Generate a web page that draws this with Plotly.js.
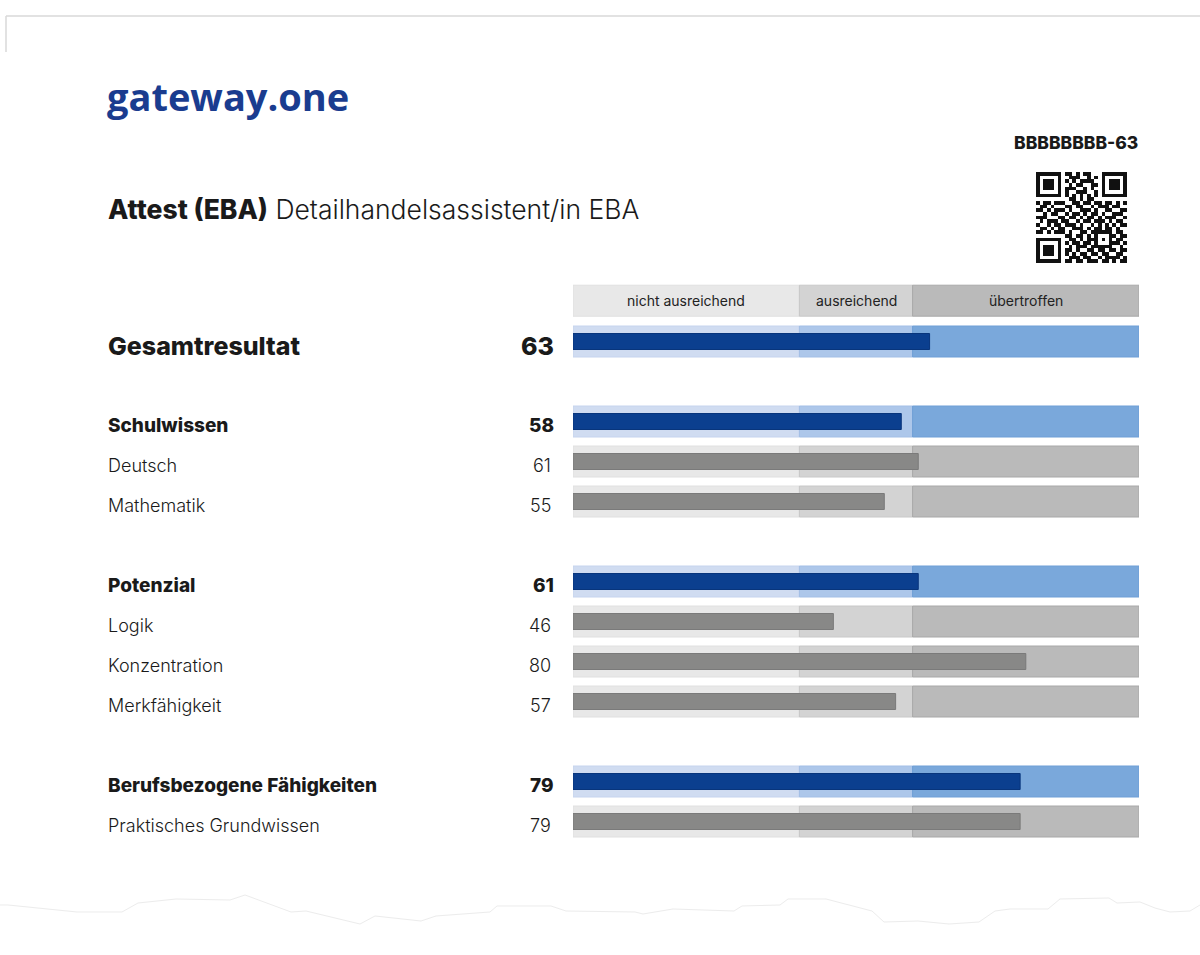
<!DOCTYPE html>
<html>
<head>
<meta charset="utf-8">
<script src="https://cdn.plot.ly/plotly-3.0.1.min.js"></script>
<style>
html,body{margin:0;padding:0;background:#fff;}
#chart{width:1200px;height:955px;}
</style>
</head>
<body>
<div id="chart"></div>
<script>
// ---- data ----
const rowLabels = ["Gesamtresultat","Schulwissen","Deutsch","Mathematik","Potenzial","Logik","Konzentration","Merkfähigkeit","Berufsbezogene Fähigkeiten","Praktisches Grundwissen"];
const rowValues = [63,58,61,55,61,46,80,57,79,79];
const rowLevels = ["total","group","sub","sub","group","sub","sub","sub","group","sub"];
const rowPos = [0,2,3,4,6,7,8,9,11,12];
const bandNames = ["nicht ausreichend","ausreichend","übertroffen"];
const bandStart = [0,40,60];
const bandEnd = [40,60,100];
const headerPos = -1.02;
const titleBold = "Attest (EBA)";
const titleRest = "Detailhandelsassistent/in EBA";
const codeLabel = "BBBBBBBB-63";
const logoText = "gateway.one";
const qrRows = [
"1111111011010110001111111",
"1000001001110010101000001",
"1011101010101111001011101",
"1011101001011001101011101",
"1011101011100101001011101",
"1000001010011100101000001",
"1111111010101010101111111",
"0000000001101011000000000",
"1011011100110110110110101",
"0110100011011001011101100",
"1101011101001110100110011",
"0010110010110101101001110",
"1110001101101011010111001",
"0101110110010110111010110",
"1001011011101001010101011",
"0110101100111010110110100",
"1101011101001101111110110",
"0000000011011010100011011",
"1111111001101011101010110",
"1000001010110110100011101",
"1011101001011101111110010",
"1011101011010011011011011",
"1011101010101101101100110",
"1000001001110110010111101",
"1111111011011011101101011"
];
const tornX = [0,8,77,122,138,176,230,245,291,306,360,375,421,436,490,497,551,566,635,643,673,734,742,780,788,826,872,884,918,949,979,995,1010,1048,1060,1109,1117,1140,1155,1170,1190,1200];
const tornY = [905,905,912,912,903,899,900,895,912,911,924,916,921,916,912,906,906,911,912,914,909,911,906,905,899,899,911,922,921,924,922,911,909,909,899,898,903,902,908,912,911,905];

// ---- styling ----
const FONT = "Inter, 'Noto Sans', Roboto, sans-serif";
const grayBand = ["#e8e8e8","#d3d3d3","#bababa"];
const grayBandLine = ["#e0e0e0","#c8c8c8","#a8a8a8"];
const blueBand = ["#d0dcf1","#adc7ea","#7aa8db"];
const blueBandLine = ["#c6d4ee","#a3bfe6","#6f9fd6"];
const W = 1200, H = 955;
const rowPx0 = 341.5, rowStep = 40;
const yTop = (0 - rowPx0)/rowStep, yBot = (H - rowPx0)/rowStep;

const traces = [];
const bandY = [headerPos].concat(rowPos);
const bandKinds = ["sub"].concat(rowLevels);
for (let b = 0; b < bandNames.length; b++) {
  traces.push({
    type: "bar", orientation: "h",
    y: bandY,
    x: bandY.map(() => bandEnd[b] - bandStart[b]),
    base: bandY.map(() => bandStart[b]),
    width: 0.775,
    marker: {
      color: bandKinds.map(k => k === "sub" ? grayBand[b] : blueBand[b]),
      line: {width: 1, color: bandKinds.map(k => k === "sub" ? grayBandLine[b] : blueBandLine[b])}
    },
    hoverinfo: "skip", showlegend: false
  });
}
traces.push({
  type: "bar", orientation: "h",
  y: rowPos, x: rowValues, base: 0,
  width: 0.4,
  marker: {
    color: rowLevels.map(k => k === "sub" ? "#888887" : "#0b3f8f"),
    line: {width: 1, color: rowLevels.map(k => k === "sub" ? "#7a7a7a" : "#08357c")}
  },
  hoverinfo: "skip", showlegend: false
});
// QR code as heatmap
const qrZ = qrRows.map(r => r.split("").map(Number));
traces.push({
  type: "heatmap", z: qrZ, xaxis: "x2", yaxis: "y2",
  colorscale: [[0,"#ffffff"],[1,"#111111"]], showscale: false, hoverinfo: "skip",
  zmin: 0, zmax: 1
});

const annotations = [];
// logo
annotations.push({xref:"paper", yref:"paper", x:105/W, y:1-96/H, xanchor:"left", yanchor:"middle",
  text: logoText, showarrow:false, font:{family:"'Open Sans', sans-serif", size:38, color:"#1a3c8f", weight:700}});
// code label
annotations.push({xref:"paper", yref:"paper", x:1140/W, y:1-143/H, xanchor:"right", yanchor:"middle",
  text: codeLabel, showarrow:false, font:{family:FONT, size:17.5, color:"#1a1a1a", weight:800}});
// title
annotations.push({xref:"paper", yref:"paper", x:106/W, y:1-209/H, xanchor:"left", yanchor:"middle",
  text: "<span style='font-weight:800'>"+titleBold+"</span> "+titleRest, showarrow:false,
  font:{family:FONT, size:26.5, color:"#1a1a1a", weight:300}});
// header labels
for (let b = 0; b < bandNames.length; b++) {
  annotations.push({xref:"x", yref:"y", x:(bandStart[b]+bandEnd[b])/2, y:headerPos, xanchor:"center", yanchor:"middle",
    text: bandNames[b], showarrow:false, font:{family:FONT, size:14, color:"#222", weight:400}});
}
// row labels & values
rowLabels.forEach((lab, i) => {
  const lvl = rowLevels[i];
  const bold = lvl !== "sub";
  const size = lvl === "total" ? 25 : (bold ? 19 : 18);
  annotations.push({xref:"paper", yref:"y", x:106/W, y:rowPos[i], xanchor:"left", yanchor:"middle", yshift:-4,
    text: lab, showarrow:false,
    font:{family:FONT, size:size, color:"#1a1a1a", weight: bold ? 800 : 300}});
  annotations.push({xref:"paper", yref:"y", x:(lvl === "sub" ? 553 : 556)/W, y:rowPos[i], xanchor:"right", yanchor:"middle", yshift:-4,
    text: String(rowValues[i]), showarrow:false,
    font:{family:FONT, size:size, color:"#1a1a1a", weight: bold ? 800 : 300}});
});

const shapes = [
  {type:"line", xref:"paper", yref:"paper", x0:6/W, x1:1, y0:1-16/H, y1:1-16/H, line:{color:"#d9d9d9", width:1.5}},
  {type:"line", xref:"paper", yref:"paper", x0:6/W, x1:6/W, y0:1-16/H, y1:1-52/H, line:{color:"#d9d9d9", width:1.5}},
  {type:"path", xref:"paper", yref:"paper",
    path: "M " + tornX.map((x,i) => (x/W).toFixed(5) + "," + (1-tornY[i]/H).toFixed(5)).join(" L "),
    line:{color:"#ececec", width:1}}
];

const layout = {
  width: W, height: H,
  margin: {l:0, r:0, t:0, b:0},
  paper_bgcolor: "#ffffff", plot_bgcolor: "rgba(0,0,0,0)",
  barmode: "overlay",
  bargap: 0,
  showlegend: false,
  xaxis: {domain:[573/W, 1139/W], range:[0,100], visible:false, fixedrange:true},
  yaxis: {domain:[0,1], range:[yBot, yTop], visible:false, fixedrange:true},
  xaxis2: {domain:[1036/W, 1127/W], range:[-0.5,24.5], visible:false, anchor:"y2"},
  yaxis2: {domain:[1-263/H, 1-172/H], range:[24.5,-0.5], visible:false, anchor:"x2"},
  annotations: annotations,
  shapes: shapes
};

Plotly.newPlot("chart", traces, layout, {displayModeBar:false, staticPlot:true});
</script>
</body>
</html>
